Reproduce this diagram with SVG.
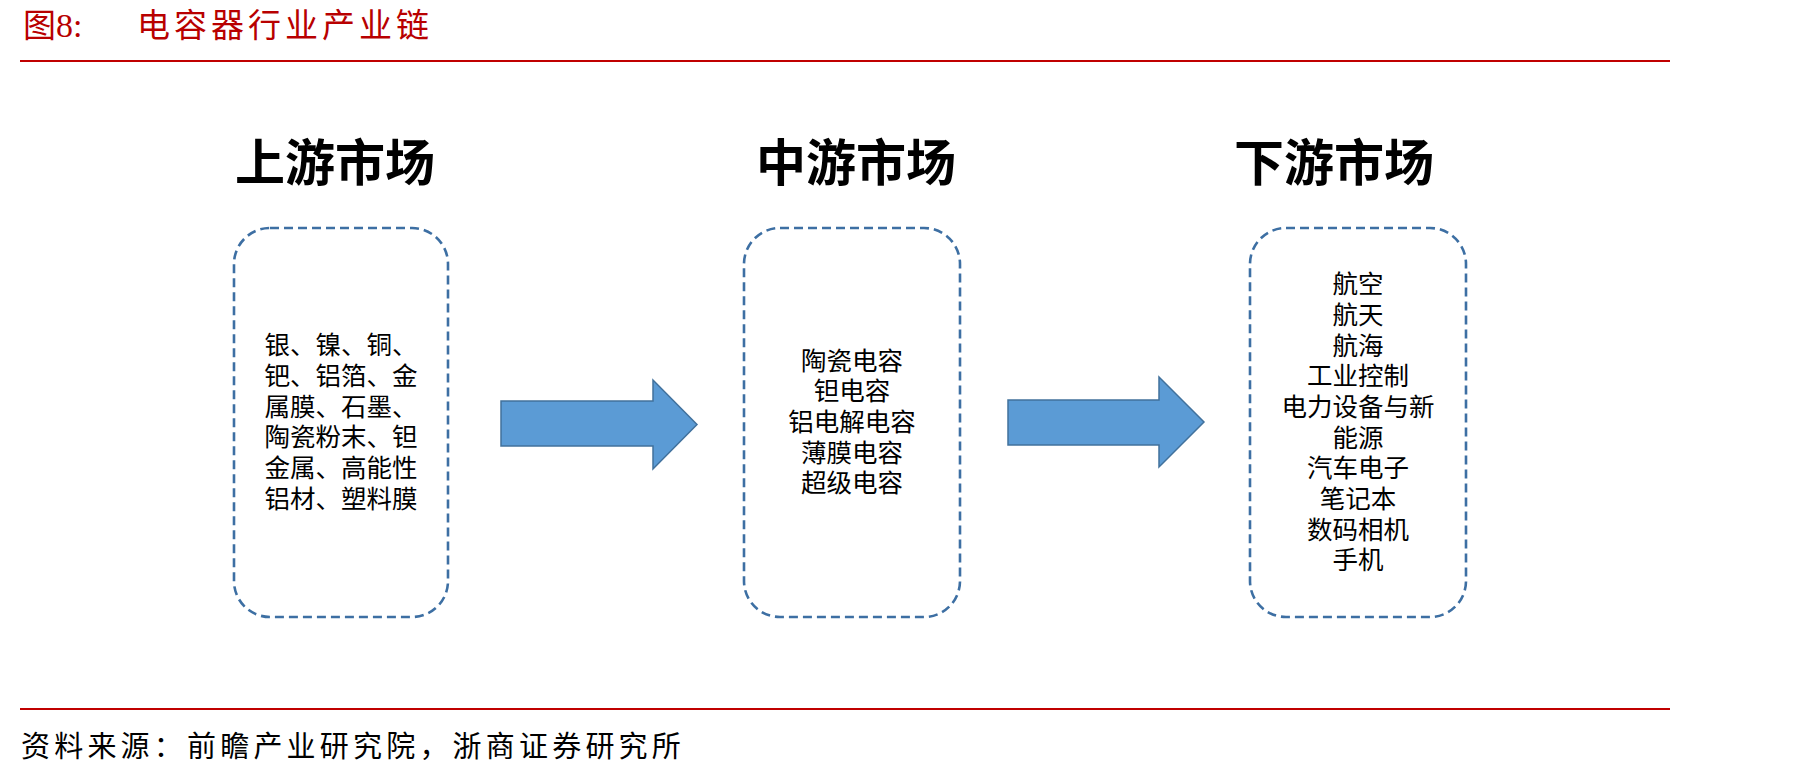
<svg xmlns="http://www.w3.org/2000/svg" width="1798" height="777" viewBox="0 0 1798 777">
<style>
.rule{stroke:#C00000;stroke-width:2.2;fill:none}
.cap{font-family:"Liberation Serif","Noto Sans CJK SC",serif;fill:#B80000;font-size:33px}
.src{font-family:"Liberation Serif","Noto Sans CJK SC",serif;fill:#000;font-size:29px;letter-spacing:4.2px}
.head{font-family:"Noto Sans CJK SC","Liberation Sans",sans-serif;font-weight:bold;font-size:50px;fill:#000;text-anchor:middle}
.box{fill:none;stroke:#3D6FA3;stroke-width:2.6;stroke-dasharray:9 5}
.item{font-family:"Noto Sans CJK SC","Liberation Sans",sans-serif;font-size:25.5px;fill:#000;text-anchor:middle}
.arrow{fill:#5B9BD5;stroke:#41719C;stroke-width:1.5}
</style>
<rect width="1798" height="777" fill="#fff"/>
<g id="title">
<text class="cap" x="23" y="37">图<tspan font-size="34">8:</tspan></text>
<text class="cap" x="137" y="37" letter-spacing="4">电容器行业产业链</text>
<line class="rule" x1="20" y1="61" x2="1670" y2="61"/>
</g>
<g id="upstream">
<text class="head" x="335" y="181">上游市场</text>
<rect class="box" x="234" y="228" width="214" height="389" rx="36"/>
<text class="item"><tspan x="341" y="354">银、镍、铜、</tspan><tspan x="341" y="385">钯、铝箔、金</tspan><tspan x="341" y="416">属膜、石墨、</tspan><tspan x="341" y="446">陶瓷粉末、钽</tspan><tspan x="341" y="477">金属、高能性</tspan><tspan x="341" y="508">铝材、塑料膜</tspan></text>
</g>
<g id="midstream">
<text class="head" x="856" y="181">中游市场</text>
<rect class="box" x="744" y="228" width="216" height="389" rx="36"/>
<text class="item"><tspan x="852" y="370">陶瓷电容</tspan><tspan x="852" y="400">钽电容</tspan><tspan x="852" y="431">铝电解电容</tspan><tspan x="852" y="462">薄膜电容</tspan><tspan x="852" y="492">超级电容</tspan></text>
</g>
<g id="downstream">
<text class="head" x="1334" y="181">下游市场</text>
<rect class="box" x="1250" y="228" width="216" height="389" rx="36"/>
<text class="item"><tspan x="1358" y="293">航空</tspan><tspan x="1358" y="324">航天</tspan><tspan x="1358" y="355">航海</tspan><tspan x="1358" y="385">工业控制</tspan><tspan x="1358" y="416">电力设备与新</tspan><tspan x="1358" y="447">能源</tspan><tspan x="1358" y="477">汽车电子</tspan><tspan x="1358" y="508">笔记本</tspan><tspan x="1358" y="539">数码相机</tspan><tspan x="1358" y="569">手机</tspan></text>
</g>
<g id="connectors">
<polygon class="arrow" points="501,401 653,401 653,380 697,424.5 653,469 653,446 501,446"/>
<polygon class="arrow" points="1008,400 1159,400 1159,377 1204,422 1159,467 1159,445 1008,445"/>
</g>
<g id="source">
<line class="rule" x1="20" y1="709" x2="1670" y2="709"/>
<text class="src" x="21" y="757">资料来源：前瞻产业研究院，浙商证券研究所</text>
</g>
</svg>
